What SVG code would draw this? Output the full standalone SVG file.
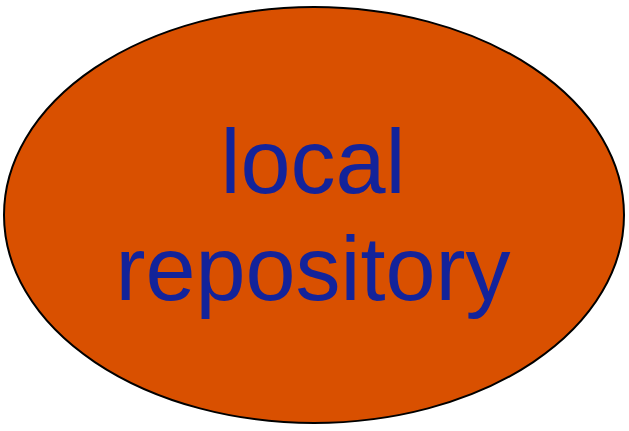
<svg xmlns="http://www.w3.org/2000/svg" width="629" height="431" viewBox="0 0 629 431">
<style>
.lbl{font-family:"Liberation Sans",Arial,sans-serif;font-size:90px;fill:#13239A;text-anchor:middle}
</style>
<rect width="629" height="431" fill="#ffffff"/>
<g id="local-repository">
<ellipse cx="314" cy="215" rx="310" ry="208" fill="#D95000" stroke="#000" stroke-width="2"/>
<text class="lbl" x="313" y="193">local</text>
<text class="lbl" x="313" y="300">repository</text>
</g>
<g id="connectors"/>
</svg>
